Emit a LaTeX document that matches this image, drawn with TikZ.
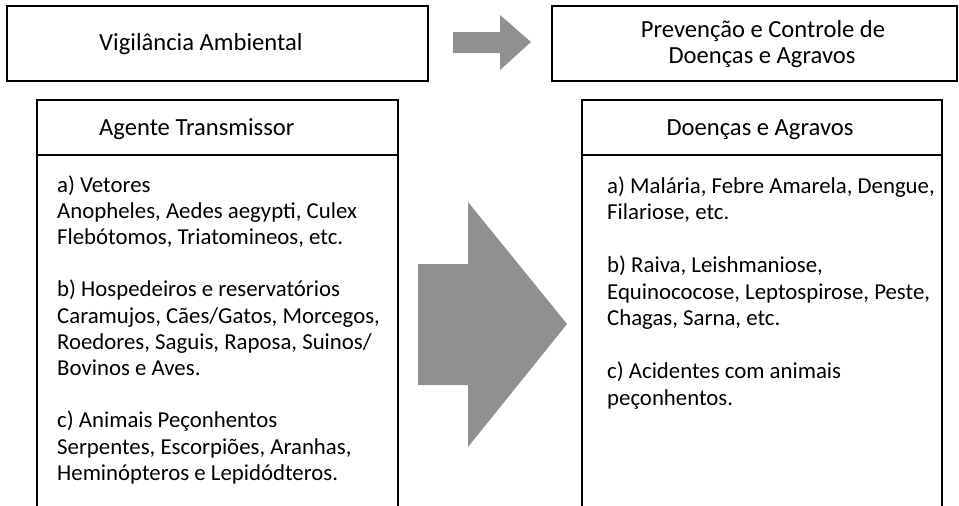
\documentclass[tikz,border=0pt]{standalone}
\usepackage{fontspec}
\setmainfont{Carlito}
\begin{document}
\begin{tikzpicture}[x=1pt,y=-1pt,
  boxline/.style={draw=black,line width=1.8pt},
  arrowfill/.style={fill=arrowgray,draw=none},
  txt/.style={inner sep=0pt,anchor=base west,font=\fontsize{22.8}{26.3}\selectfont},
  ttxt/.style={inner sep=0pt,anchor=base west,font=\fontsize{24.6}{29}\selectfont},
  ctxt/.style={inner sep=0pt,anchor=base,font=\fontsize{24.6}{29}\selectfont}]
\definecolor{arrowgray}{HTML}{8F9092}
\useasboundingbox (0,0) rectangle (959,506);
\begin{scope}
\clip (0,0) rectangle (959,506);
% top boxes
\draw[boxline] (7,6) rectangle (428,81);
\draw[boxline] (552,6) rectangle (957,81);
% lower open boxes
\draw[boxline] (37,515) -- (37,100) -- (398,100) -- (398,515);
\draw[boxline] (37,155) -- (398,155);
\draw[boxline] (582,515) -- (582,100) -- (942,100) -- (942,515);
\draw[boxline] (582,155) -- (942,155);
\end{scope}
% arrows
\fill[arrowfill] (453,32) -- (500,32) -- (500,15) -- (531,42) -- (500,70) -- (500,53) -- (453,53) -- cycle;
\fill[arrowfill] (418,264) -- (468,264) -- (468,202) -- (567,324) -- (468,447) -- (468,385) -- (418,385) -- cycle;
% titles
\node[ttxt] (va) at (99,50) {Vigilância Ambiental};
\node[ctxt] (pc1) at (763,37) {Prevenção e Controle de};
\node[ctxt] (pc2) at (762,63) {Doenças e Agravos};
\node[ttxt] (at) at (99,135) {Agente Transmissor};
\node[ctxt] (da) at (760,135) {Doenças e Agravos};
% left list
\node[txt] (l1) at (57,192) {a) Vetores};
\node[txt] (l2) at (57,218.2) {Anopheles, Aedes aegypti, Culex};
\node[txt] (l3) at (57,244.4) {Flebótomos, Triatomineos, etc.};
\node[txt] (l4) at (57,296.8) {b) Hospedeiros e reservatórios};
\node[txt] (l5) at (57,323) {Caramujos, Cães/Gatos, Morcegos,};
\node[txt] (l6) at (57,349.2) {Roedores, Saguis, Raposa, Suinos/};
\node[txt] (l7) at (57,375.4) {Bovinos e Aves.};
\node[txt] (l8) at (57,427.8) {c) Animais Peçonhentos};
\node[txt] (l9) at (57,454) {Serpentes, Escorpiões, Aranhas,};
\node[txt] (l10) at (57,480.2) {Heminópteros e Lepidódteros.};
% right list
\node[txt] (r1) at (607,193) {a) Malária, Febre Amarela, Dengue,};
\node[txt] (r2) at (607,219.5) {Filariose, etc.};
\node[txt] (r3) at (607,272.5) {b) Raiva, Leishmaniose,};
\node[txt] (r4) at (607,299) {Equinococose, Leptospirose, Peste,};
\node[txt] (r5) at (607,325.5) {Chagas, Sarna, etc.};
\node[txt] (r6) at (607,378.5) {c) Acidentes com animais};
\node[txt] (r7) at (607,405) {peçonhentos.};
\end{tikzpicture}
\end{document}
